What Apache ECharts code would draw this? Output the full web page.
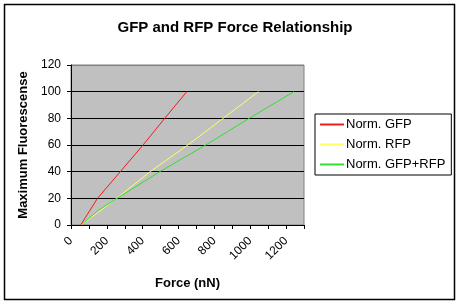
<!DOCTYPE html>
<html>
<head>
<meta charset="utf-8">
<script src="https://cdn.jsdelivr.net/npm/echarts@6/dist/echarts.min.js"></script>
<style>html,body{margin:0;padding:0;background:#fff}#c{width:460px;height:305px}</style>
</head>
<body>
<div id="c"></div>
<script>
const seriesNames = ['Norm. GFP', 'Norm. RFP', 'Norm. GFP+RFP'];
const gfpForce = [54, 148, 275, 402, 523, 646];
const gfpFluor = [0, 20, 40, 60, 80, 100];
const rfpForce = [56, 255, 442, 652, 849, 1046];
const rfpFluor = [0, 20, 40, 60, 80, 100];
const bothForce = [56, 152, 257, 495, 752, 994, 1244];
const bothFluor = [0, 11, 20, 40, 60, 80, 100];
const xTicks = [0, 200, 400, 600, 800, 1000, 1200];
const yTicks = [0, 20, 40, 60, 80, 100, 120];

const zip = (a, b) => a.map((v, i) => [v, b[i]]);
const font = 'Liberation Sans, Arial, sans-serif';
const colors = ['#f01c1c', '#ffff66', '#33dd33'];

const chart = echarts.init(document.getElementById('c'), null, {renderer: 'canvas'});
chart.setOption({
  animation: false,
  title: {
    text: 'GFP and RFP Force Relationship',
    left: 230, top: 15, textAlign: 'center',
    textStyle: {fontFamily: font, fontSize: 15, fontWeight: 'bold', color: '#000'}
  },
  graphic: [{
    type: 'rect', shape: {x: 4.5, y: 4.5, width: 450, height: 295},
    style: {fill: 'none', stroke: '#000', lineWidth: 1.5}, silent: true
  }],
  legend: {
    orient: 'vertical', left: 315, top: 114,
    width: 136, padding: [4, 6, 4, 5],
    borderColor: '#000', borderWidth: 1, backgroundColor: '#fff',
    itemWidth: 24, itemHeight: 2, itemGap: 7,
    icon: 'rect',
    data: seriesNames,
    textStyle: {fontFamily: font, fontSize: 13, color: '#000', padding: [0, 0, 0, -3]}
  },
  grid: {
    left: 71, top: 65, width: 233, height: 160,
    show: true, backgroundColor: '#c0c0c0', borderColor: '#808080', borderWidth: 1
  },
  xAxis: {
    type: 'value', min: 0, max: 1300, interval: 100,
    name: 'Force (nN)', nameLocation: 'middle', nameGap: 52,
    nameTextStyle: {fontFamily: font, fontSize: 13, fontWeight: 'bold', color: '#000'},
    axisLine: {show: true, lineStyle: {color: '#000', width: 1}},
    axisTick: {show: true, inside: false, length: 4, lineStyle: {color: '#000'}},
    splitLine: {show: false},
    axisLabel: {
      rotate: 45, fontFamily: font, fontSize: 12, color: '#000', margin: 14,
      formatter: v => xTicks.includes(v) ? String(v) : ''
    }
  },
  yAxis: {
    type: 'value', min: 0, max: 120, interval: 20,
    name: 'Maximum Fluorescense', nameLocation: 'middle', nameGap: 34, nameRotate: 90,
    nameTextStyle: {fontFamily: font, fontSize: 13, fontWeight: 'bold', color: '#000'},
    axisLine: {show: true, lineStyle: {color: '#000', width: 1}},
    axisTick: {show: true, length: 4, lineStyle: {color: '#000'}},
    splitLine: {show: true, lineStyle: {color: ['#000', '#000', '#000', '#000', '#000', '#000', '#808080'], width: 1}},
    axisLabel: {fontFamily: font, fontSize: 12, color: '#000', margin: 10,
      formatter: v => yTicks.includes(v) ? String(v) : ''}
  },
  series: [
    {name: seriesNames[0], type: 'line', data: zip(gfpForce, gfpFluor), showSymbol: false, symbol: 'none',
     lineStyle: {color: colors[0], width: 1}, itemStyle: {color: colors[0]}},
    {name: seriesNames[1], type: 'line', data: zip(rfpForce, rfpFluor), showSymbol: false, symbol: 'none',
     lineStyle: {color: colors[1], width: 1}, itemStyle: {color: colors[1]}},
    {name: seriesNames[2], type: 'line', data: zip(bothForce, bothFluor), showSymbol: false, symbol: 'none',
     lineStyle: {color: colors[2], width: 1}, itemStyle: {color: colors[2]}}
  ]
});
</script>
</body>
</html>
